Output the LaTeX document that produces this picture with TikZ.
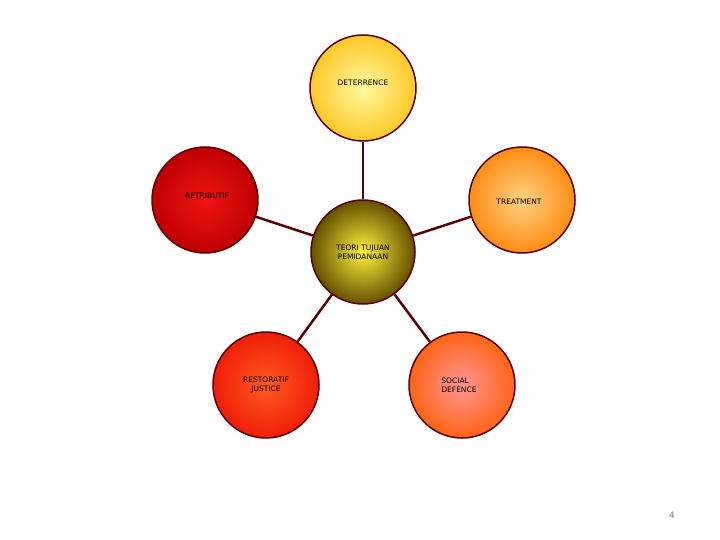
\documentclass[tikz,border=0pt]{standalone}
\usepackage{fontspec}
\setmainfont{DejaVu Sans}
\begin{document}
\begin{tikzpicture}[x=1pt,y=-1pt]
\useasboundingbox (0,0) rectangle (720,540);
\definecolor{rim}{RGB}{90,0,0}
\tikzset{ball/.style={circle,draw=rim,line width=1.5pt,minimum size=106pt,inner sep=0pt,align=center,font=\fontsize{7.5}{9}\selectfont},
link/.style={draw=rim,line width=2.5pt}}
\node[ball,minimum size=104pt,inner color={rgb,255:red,255;green,240;blue,60},outer color={rgb,255:red,100;green,80;blue,0}] (c) at (363,252) {TEORI TUJUAN\\PEMIDANAAN};
\node[ball,inner color={rgb,255:red,255;green,250;blue,160},outer color={rgb,255:red,255;green,200;blue,40}] (d) at (363,88) {};
\node[ball,inner color={rgb,255:red,240;green,20;blue,20},outer color={rgb,255:red,190;green,0;blue,0}] (r) at (205,200) {};
\node[ball,inner color={rgb,255:red,255;green,210;blue,130},outer color={rgb,255:red,255;green,140;blue,20}] (t) at (522,200) {};
\node[ball,inner color={rgb,255:red,255;green,90;blue,30},outer color={rgb,255:red,240;green,30;blue,10}] (rj) at (266,385) {RESTORATIF\\JUSTICE};
\node[ball,inner color={rgb,255:red,255;green,150;blue,150},outer color={rgb,255:red,255;green,100;blue,20}] (s) at (462,385) {};
\begin{scope}[on background layer/.style={}]
\end{scope}
\path[link] (c) -- (d);
\path[link] (c) -- (r);
\path[link] (c) -- (t);
\path[link] (c) -- (rj);
\path[link] (c) -- (s);
\node[font=\fontsize{7.5}{9}\selectfont] (dl) at (363,83) {DETERRENCE};
\node[font=\fontsize{7.5}{9}\selectfont] (rl) at (207,196) {RETRIBUTIF};
\node[font=\fontsize{7.5}{9}\selectfont] (tl) at (519,202) {TREATMENT};
\node[font=\fontsize{7.5}{9}\selectfont,align=left] (sl) at (459,385) {SOCIAL\\DEFENCE};
\node[font=\fontsize{9}{10}\selectfont,text=gray] (p) at (672,515) {4};
\end{tikzpicture}
\end{document}
